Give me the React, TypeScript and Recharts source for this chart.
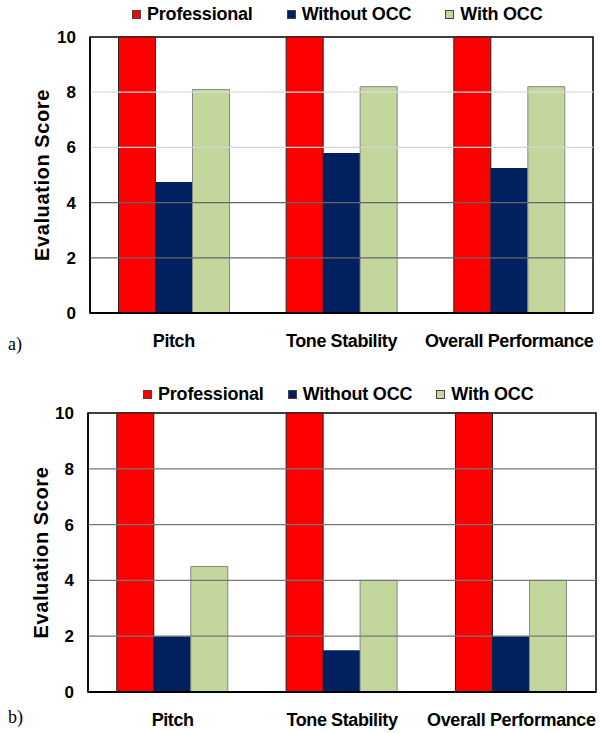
import React from "react";
import {
  BarChart,
  Bar,
  XAxis,
  YAxis,
  ReferenceLine,
  ReferenceArea,
} from "recharts";

const categories = ["Pitch", "Tone Stability", "Overall Performance"];
const seriesNames = ["Professional", "Without OCC", "With OCC"];
const seriesColors = ["#ff0000", "#002060", "#c3d69b"];
const seriesStrokes = ["#222", "none", "#888"];

const professionalA = [10, 10, 10];
const withoutOccA = [4.75, 5.8, 5.25];
const withOccA = [8.1, 8.2, 8.2];

const professionalB = [10, 10, 10];
const withoutOccB = [2, 1.5, 2];
const withOccB = [4.5, 4, 4];

const yTicks = [0, 2, 4, 6, 8, 10];
const gridValues = [2, 4, 6, 8];
// panel a has faint upper gridlines, panel b all mid grey
const gridColorsA = ["#666", "#666", "#d4d4d4", "#dcdcdc"];
const gridColorsB = ["#777", "#777", "#777", "#777"];

const FONT = "'Liberation Sans', Arial, sans-serif";

function buildRows(pro: number[], without: number[], withOcc: number[]) {
  return categories.map((c, i) => ({
    name: c,
    pro: pro[i],
    without: without[i],
    withOcc: withOcc[i],
  }));
}

const keys = ["pro", "without", "withOcc"];

function LegendRow({ left, top, gaps }: { left: number; top: number; gaps: number }) {
  return (
    <div
      style={{
        position: "absolute",
        left,
        top,
        display: "flex",
        alignItems: "center",
        gap: gaps,
        fontFamily: FONT,
        fontWeight: "bold",
        fontSize: 18,
        color: "#000",
        whiteSpace: "nowrap",
        letterSpacing: -0.2,
      }}
    >
      {seriesNames.map((s, i) => (
        <div key={s} style={{ display: "flex", alignItems: "center" }}>
          <span
            style={{
              display: "inline-block",
              width: 7,
              height: 7,
              background: seriesColors[i],
              border: "1px solid #444",
              marginRight: 6,
            }}
          />
          {s}
        </div>
      ))}
    </div>
  );
}

function Panel({
  rows,
  top,
  height,
  marginTop,
  axisWidth,
  xHeight,
  rightMargin,
  gridColors,
}: {
  rows: any[];
  top: number;
  height: number;
  marginTop: number;
  axisWidth: number;
  xHeight: number;
  rightMargin: number;
  gridColors: string[];
}) {
  return (
    <div style={{ position: "absolute", left: 0, top }}>
      <BarChart
        width={600}
        height={height}
        data={rows}
        margin={{ top: marginTop, right: rightMargin, bottom: 0, left: 0 }}
        barCategoryGap="17%"
        barGap={0}
      >
        {gridValues.map((v, i) => (
          <ReferenceLine key={v} y={v} stroke={gridColors[i]} strokeWidth={1.2} />
        ))}
        <XAxis
          dataKey="name"
          height={xHeight}
          tickLine={false}
          tickSize={0}
          tickMargin={21}
          axisLine={{ stroke: "#000", strokeWidth: 2 }}
          tick={{ fill: "#000", fontSize: 18, fontWeight: "bold", fontFamily: FONT, letterSpacing: -0.4 }}
        />
        <YAxis
          width={axisWidth}
          domain={[0, 10]}
          ticks={yTicks}
          tickLine={false}
          tickSize={0}
          tickMargin={14}
          axisLine={{ stroke: "#000", strokeWidth: 1.5 }}
          tick={{ fill: "#000", fontSize: 17, fontWeight: "bold", fontFamily: FONT }}
          label={{
            value: "Evaluation Score",
            angle: -90,
            position: "center",
            dx: -3,
            style: { fill: "#000", fontSize: 20, fontWeight: "bold", fontFamily: FONT, letterSpacing: 0.6 },
          }}
        />
        <ReferenceArea y1={0} y2={10} fill="none" stroke="#000" strokeWidth={1.5} ifOverflow="visible" />
        {keys.map((k, i) => (
          <Bar
            key={k}
            dataKey={k}
            name={seriesNames[i]}
            fill={seriesColors[i]}
            stroke={seriesStrokes[i]}
            strokeWidth={seriesStrokes[i] === "none" ? 0 : 1}
            isAnimationActive={false}
          />
        ))}
      </BarChart>
    </div>
  );
}

export default function App() {
  const rowsA = buildRows(professionalA, withoutOccA, withOccA);
  const rowsB = buildRows(professionalB, withoutOccB, withOccB);
  const tag: React.CSSProperties = {
    position: "absolute",
    left: 8,
    fontFamily: "'Liberation Serif', 'Times New Roman', serif",
    fontSize: 18,
    color: "#000",
  };
  return (
    <div style={{ position: "absolute", left: 0, top: 0, width: 600, height: 733, background: "#fff" }}>
      <LegendRow left={132} top={4} gaps={34} />
      <Panel rows={rowsA} top={0} height={355} marginTop={37} axisWidth={90} xHeight={42} rightMargin={7} gridColors={gridColorsA} />
      <div style={{ ...tag, top: 334 }}>a)</div>
      <LegendRow left={143} top={384} gaps={24} />
      <Panel rows={rowsB} top={375} height={355} marginTop={38} axisWidth={88} xHeight={38} rightMargin={4} gridColors={gridColorsB} />
      <div style={{ ...tag, top: 707 }}>b)</div>
    </div>
  );
}
